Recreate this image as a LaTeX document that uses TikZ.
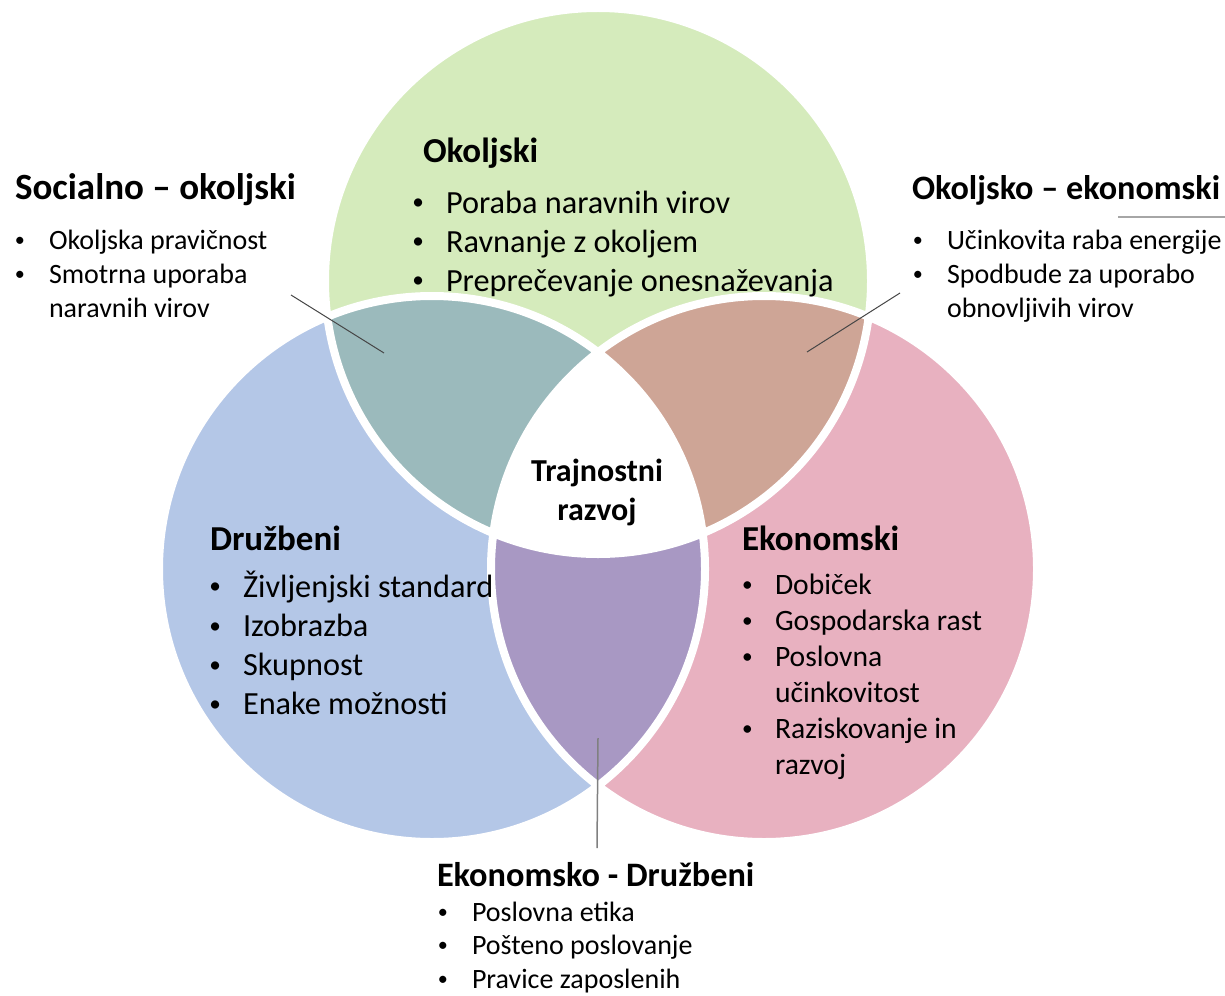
\documentclass[tikz,border=0pt]{standalone}
\usepackage{fontspec}
\setmainfont{Carlito}
\definecolor{cgreen}{RGB}{213,235,188}
\definecolor{cblue}{RGB}{180,199,231}
\definecolor{cpink}{RGB}{232,177,192}
\definecolor{cteal}{RGB}{155,186,188}
\definecolor{cbrown}{RGB}{206,165,150}
\definecolor{cpurple}{RGB}{168,152,195}
\definecolor{cline}{RGB}{70,70,70}
\newcommand\bl[1]{\makebox[#1pt][l]{\hspace{0.07em}\raisebox{0.1em}{\scalebox{0.72}{•}}}}
\begin{document}
\begin{tikzpicture}[x=1pt,y=-1pt,
  txt/.style={anchor=base west,inner sep=0pt,outer sep=0pt},
  conn/.style={draw=cline,line width=1pt},
  sep/.style={draw=white,line width=8pt}]
\useasboundingbox (0,0) rectangle (1225,995);
\coordinate (G) at (598,281);
\coordinate (B) at (432,569);
\coordinate (P) at (764,569);
\def\R{273pt}
% base circles
\fill[cgreen] (G) circle (\R);
\fill[cblue] (B) circle (\R);
\fill[cpink] (P) circle (\R);
% overlaps
\begin{scope}\clip (G) circle (\R); \fill[cteal] (B) circle (\R);\end{scope}
\begin{scope}\clip (G) circle (\R); \fill[cbrown] (P) circle (\R);\end{scope}
\begin{scope}\clip (B) circle (\R); \fill[cpurple] (P) circle (\R);\end{scope}
\begin{scope}\clip (G) circle (\R); \clip (B) circle (\R); \fill[white] (P) circle (\R);\end{scope}
% white separators
\draw[sep] (G) circle (\R) (B) circle (\R) (P) circle (\R);

% centre
\node[anchor=base,inner sep=0pt] (center) at (597,481)
  {\parbox[t]{200pt}{\centering\fontsize{32}{39}\selectfont\bfseries Trajnostni\\razvoj}};

% Okoljski
\node[txt] (okh) at (423,163) {\fontsize{35}{42}\selectfont\bfseries Okoljski};
\node[txt] (okl) at (410,213) {\parbox[t]{460pt}{\fontsize{32.3}{39}\selectfont
  \bl{36}Poraba naravnih virov\\
  \bl{36}Ravnanje z okoljem\\
  \bl{36}Preprečevanje onesnaževanja}};

% Druzbeni
\node[txt] (drh) at (210,550) {\fontsize{35}{42}\selectfont\bfseries Družbeni};
\node[txt] (drl) at (207,597) {\parbox[t]{320pt}{\fontsize{32.3}{39.3}\selectfont
  \bl{36}Življenjski standard\\
  \bl{36}Izobrazba\\
  \bl{36}Skupnost\\
  \bl{36}Enake možnosti}};

% Ekonomski
\node[txt] (ekh) at (742,550) {\fontsize{35}{42}\selectfont\bfseries Ekonomski};
\node[txt] (ekl) at (740,594) {\parbox[t]{300pt}{\fontsize{29.6}{36}\selectfont
  \bl{35}Dobiček\\
  \bl{35}Gospodarska rast\\
  \bl{35}Poslovna\\
  \hspace*{35pt}učinkovitost\\
  \bl{35}Raziskovanje in\\
  \hspace*{35pt}razvoj}};

% Socialno - okoljski
\node[txt] (soh) at (15,200) {\fontsize{37}{42}\selectfont\bfseries Socialno – okoljski};
\node[txt] (sol) at (13,249) {\parbox[t]{300pt}{\fontsize{28}{34}\selectfont
  \bl{36}Okoljska pravičnost\\
  \bl{36}Smotrna uporaba\\
  \hspace*{36pt}naravnih virov}};

% Okoljsko - ekonomski
\node[txt] (oeh) at (912,199) {\fontsize{34.2}{42}\selectfont\bfseries Okoljsko – ekonomski};
\node[txt] (oel) at (911,249) {\parbox[t]{340pt}{\fontsize{28}{34}\selectfont
  \bl{36}Učinkovita raba energije\\
  \bl{36}Spodbude za uporabo\\
  \hspace*{36pt}obnovljivih virov}};
\coordinate (ul1) at (1118,217);
\coordinate (ul2) at (1225,217);
\draw[draw=gray!70,line width=1.2pt] (ul1) -- (ul2);

% Ekonomsko - Druzbeni
\node[txt] (edh) at (437,886) {\fontsize{34.3}{42}\selectfont\bfseries Ekonomsko - Družbeni};
\node[txt] (edl) at (436,921) {\parbox[t]{340pt}{\fontsize{28}{33.5}\selectfont
  \bl{36}Poslovna etika\\
  \bl{36}Pošteno poslovanje\\
  \bl{36}Pravice zaposlenih}};

% pointer lines
\coordinate (so1) at (291,295);
\coordinate (so2) at (384,353);
\draw[conn] (so1) -- (so2);
\coordinate (oe1) at (900,293);
\coordinate (oe2) at (807,352);
\draw[conn] (oe1) -- (oe2);
\coordinate (ed1) at (598,738);
\coordinate (ed2) at (597,848);
\draw[draw=gray,line width=1.5pt] (ed1) -- (ed2);
\end{tikzpicture}
\end{document}
